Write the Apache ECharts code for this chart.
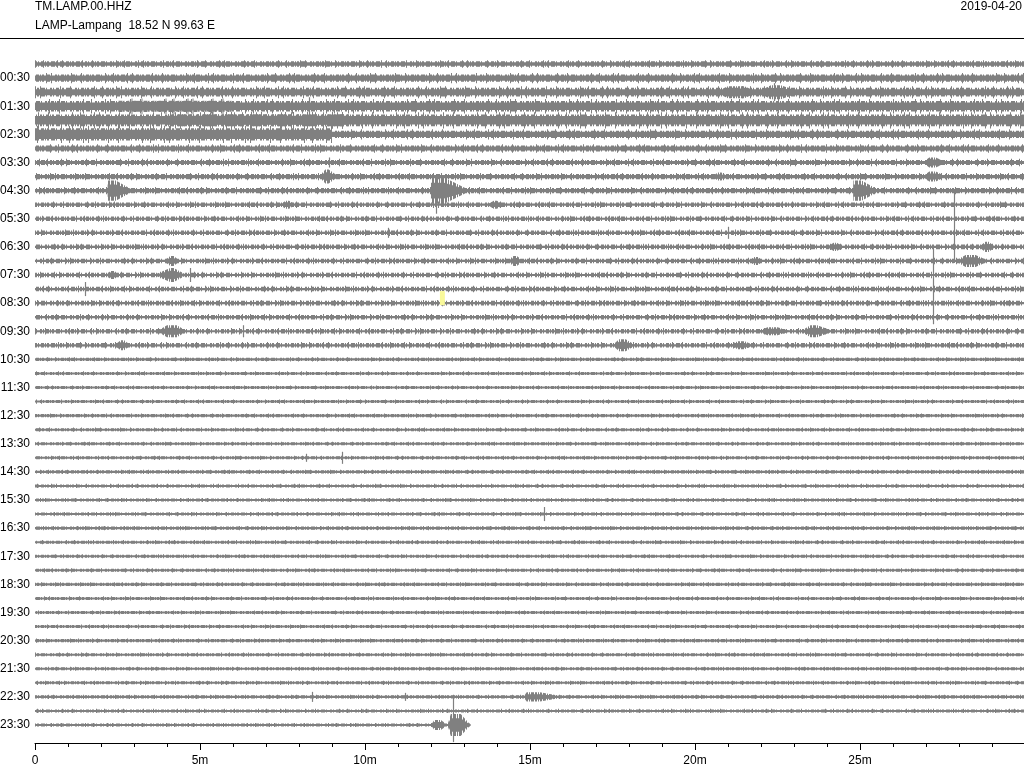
<!DOCTYPE html>
<html><head><meta charset="utf-8">
<script src="https://cdn.jsdelivr.net/npm/echarts@6/dist/echarts.min.js"></script>
<style>html,body{margin:0;padding:0;background:#fff}#c{width:1024px;height:768px}</style>
</head><body><div id="c"></div>
<script>
// ---------------- data ----------------
const stationCode = "TM.LAMP.00.HHZ";
const stationInfo = "LAMP-Lampang  18.52 N 99.63 E";
const dateLabel = "2019-04-20";
const hourLabels = ["00:30","01:30","02:30","03:30","04:30","05:30","06:30","07:30","08:30","09:30","10:30","11:30",
                    "12:30","13:30","14:30","15:30","16:30","17:30","18:30","19:30","20:30","21:30","22:30","23:30"];
const minuteTicks = [0, 5, 10, 15, 20, 25, 30];
const minuteLabels = ["0", "5m", "10m", "15m", "20m", "25m", ""];
const COUNTS_PER_TRACE = 1400;       // amplitude counts equal to one line spacing
const lastTraceEndMinute = 13.2;     // record stops at 23:43
// background noise half-amplitude (counts) per 30-min line, core and peak
const noiseCore = [170,260,300,380,420,260,200,160,160,160,
                   110,110,110,110,110,110,110,110,110,110,110,
                   100,100,100,100,100,100,100,100,100,100,100,100,100,100,100,100,100,100,100,100,100,100,100,100,100,100,100];
const noisePeak = [270,370,430,520,580,370,300,260,260,260,
                   230,220,230,230,230,230,230,230,230,230,230,
                   150,150,150,150,150,150,150,150,150,150,150,150,150,150,150,150,150,150,150,150,150,150,150,150,150,150,150];
// stretches of louder noise: [line, start min, end min, core counts, peak counts]
const noiseSegments = [
  [5, 0.0, 9.0, 470, 620],
  [3, 2.5, 6.0, 420, 560],
  [4, 4.0, 9.5, 450, 600]
];
// wave packets: [line, start min, full-amp start, full-amp end, end min, half-amplitude counts]
const events = [
  [2, 20.6, 21.0, 21.5, 21.9, 600],
  [2, 21.9, 22.3, 22.6, 23.2, 700],
  [3, 4.0, 4.2, 4.3, 4.5, 500],
  [8, 8.6, 8.8, 8.9, 9.2, 700],
  [7, 26.9, 27.1, 27.3, 27.6, 500],
  [8, 26.9, 27.1, 27.3, 27.6, 500],
  [8, 20.5, 20.7, 20.8, 21.0, 400],
  [9, 2.2, 2.2, 2.45, 3.0, 1000],
  [9, 12.0, 12.0, 12.4, 13.2, 1300],
  [9, 24.8, 24.8, 25.05, 25.6, 1000],
  [10, 7.4, 7.6, 7.7, 7.9, 400],
  [10, 13.7, 13.9, 14.0, 14.2, 400],
  [13, 24.0, 24.2, 24.3, 24.5, 400],
  [13, 28.6, 28.8, 28.9, 29.1, 500],
  [14, 3.9, 4.1, 4.2, 4.4, 500],
  [14, 14.3, 14.5, 14.6, 14.8, 500],
  [14, 21.6, 21.8, 21.9, 22.1, 400],
  [14, 27.9, 28.2, 28.5, 28.9, 600],
  [15, 2.1, 2.3, 2.4, 2.6, 400],
  [15, 3.6, 4.1, 4.2, 4.6, 700],
  [19, 3.7, 4.0, 4.3, 4.6, 600],
  [19, 21.9, 22.2, 22.5, 22.9, 400],
  [19, 23.2, 23.5, 23.7, 24.2, 600],
  [20, 2.4, 2.6, 2.7, 2.9, 500],
  [20, 17.5, 17.7, 17.9, 18.2, 600],
  [20, 21.0, 21.3, 21.5, 21.8, 400],
  [45, 14.8, 14.9, 15.3, 16.1, 450],
  [47, 12.0, 12.1, 12.3, 12.5, 500],
  [47, 12.5, 12.6, 12.9, 13.2, 1100]
];
// single spikes: [line, minute, upward counts, downward counts]
const spikes = [
  [2, 22.4, 900, 900],
  [3, 8.3, 900, 900],
  [7, 8.9, 500, 500],
  [9, 12.15, 1200, 2300],
  [9, 12.3, 1300, 1300],
  [12, 10.7, 500, 500],
  [12, 21.0, 600, 600],
  [14, 27.85, 6900, 200],
  [15, 4.7, 700, 700],
  [16, 1.5, 700, 700],
  [18, 27.2, 6800, 700],
  [19, 6.3, 600, 600],
  [28, 8.2, 400, 400],
  [28, 9.3, 600, 600],
  [32, 15.42, 700, 700],
  [45, 8.4, 500, 500],
  [45, 11.2, 400, 400],
  [47, 12.67, 2600, 1700]
];
// highlighted pick: [line, start min, end min, upward counts, downward counts]
const picks = [[17, 12.27, 12.42, 1200, 200]];

// ---------------- chart ----------------
const lineCount = noiseCore.length;
const traceData = noiseCore.map((c, i) => [i, 0, i === lineCount - 1 ? lastTraceEndMinute : 30, c, noisePeak[i]]);
const GRAY = '#808080';
const FONT = 'Liberation Sans, Arial, sans-serif';
// stroke / fill textures (style only) imitating the broken look of dense waveform traces
const DENSE_DASH = [2, 1, 1, 2, 3, 1, 1, 1, 2, 2, 4, 1, 1, 3];
const SPARSE_DASH = [1, 7, 1, 13, 1, 4, 1, 19, 1, 9, 1, 23];
function stripePattern() {
  const cols = [1,1,0,1,1,1,0,1,0,1,1,1,0,1,1,0,1,0];
  const c = document.createElement('canvas');
  c.width = cols.length; c.height = 4;
  const g = c.getContext('2d');
  g.fillStyle = GRAY;
  cols.forEach((on, k) => { if (on) g.fillRect(k, 0, 1, 4); });
  return {image: c, repeat: 'repeat'};
}
const STRIPES = stripePattern();

function toY(line, counts) { return line + counts / COUNTS_PER_TRACE; }

function renderTrace(params, api) {
  const i = api.value(0), s = api.value(1), e = api.value(2), core = api.value(3), peak = api.value(4);
  const p0 = api.coord([s, i]), p1 = api.coord([e, i]);
  const hc = api.size([0, core / COUNTS_PER_TRACE])[1];
  const hp = api.size([0, peak / COUNTS_PER_TRACE])[1];
  const y = p0[1];
  return {type: 'group', children: [
    {type: 'line', shape: {x1: p0[0], y1: y, x2: p1[0], y2: y},
     style: {stroke: GRAY, lineWidth: 2 * hp * 1.4, lineDash: SPARSE_DASH, lineDashOffset: i * 11, lineCap: 'butt'}},
    {type: 'line', shape: {x1: p0[0], y1: y, x2: p1[0], y2: y},
     style: {stroke: GRAY, lineWidth: 2 * hp, lineDash: DENSE_DASH, lineDashOffset: i * 5, lineCap: 'butt'}},
    {type: 'rect', shape: {x: p0[0], y: y - hc, width: p1[0] - p0[0], height: 2 * hc}, style: {fill: GRAY}}
  ]};
}
function renderEvent(params, api) {
  const l = api.value(0), a = api.value(5);
  const t = [api.value(1), api.value(2), api.value(3), api.value(4)];
  const env = f => [
    api.coord([t[0], l]), api.coord([t[1], toY(l, -a * f)]), api.coord([t[2], toY(l, -a * f)]),
    api.coord([t[3], l]), api.coord([t[2], toY(l, a * f)]), api.coord([t[1], toY(l, a * f)])
  ];
  return {type: 'group', children: [
    {type: 'polygon', shape: {points: env(1)}, style: {fill: STRIPES}},
    {type: 'polygon', shape: {points: env(0.6)}, style: {fill: GRAY}}
  ]};
}
function renderSpike(params, api) {
  const l = api.value(0), m = api.value(1);
  const a = api.coord([m, toY(l, -api.value(2))]), b = api.coord([m, toY(l, api.value(3))]);
  const x = Math.round(a[0]) + 0.5;
  return {type: 'line', shape: {x1: x, y1: a[1], x2: x, y2: b[1]}, style: {stroke: GRAY, lineWidth: 1.2}};
}
function renderPick(params, api) {
  const l = api.value(0);
  const a = api.coord([api.value(1), toY(l, -api.value(3))]), b = api.coord([api.value(2), toY(l, api.value(4))]);
  return {type: 'rect', shape: {x: a[0], y: a[1], width: b[0] - a[0], height: b[1] - a[1]}, style: {fill: '#f9f99a'}};
}

const chart = echarts.init(document.getElementById('c'), null, {renderer: 'canvas'});
chart.setOption({
  animation: false,
  backgroundColor: '#fff',
  grid: {left: 35, right: -1, top: 50, bottom: 25, containLabel: false, outerBoundsMode: 'none'},
  xAxis: {
    type: 'value', position: 'bottom', min: minuteTicks[0], max: minuteTicks[minuteTicks.length - 1], interval: 5,
    axisLine: {show: true, onZero: false, lineStyle: {color: '#000', width: 1}},
    axisTick: {show: true, length: 7, lineStyle: {color: '#000'}},
    minorTick: {show: true, splitNumber: 5, length: 4, lineStyle: {color: '#000'}},
    splitLine: {show: false},
    axisLabel: {color: '#000', fontSize: 12, fontFamily: FONT, margin: 12,
      formatter: v => minuteLabels[minuteTicks.indexOf(v)] ?? ''}
  },
  yAxis: {
    type: 'value', inverse: true, min: -1, max: 48.28, interval: 2,
    axisLine: {show: false}, axisTick: {show: false}, splitLine: {show: false},
    axisLabel: {color: '#000', fontSize: 12, fontFamily: FONT, margin: 5, showMaxLabel: false,
      padding: [0, 0, 8, 0],
      formatter: v => (v >= 1 && (v - 1) % 2 === 0) ? (hourLabels[(v - 1) / 2] || '') : ''}
  },
  graphic: [
    {type: 'text', left: 35, top: 1, style: {text: stationCode, fill: '#000', font: '12px ' + FONT}},
    {type: 'text', left: 35, top: 20, style: {text: stationInfo, fill: '#000', font: '12px ' + FONT}},
    {type: 'text', right: 2, top: 1, style: {text: dateLabel, fill: '#000', font: '12px ' + FONT}},
    {type: 'line', shape: {x1: 0, y1: 38.5, x2: 1024, y2: 38.5}, style: {stroke: '#000', lineWidth: 1}}
  ],
  series: [
    {type: 'custom', renderItem: renderTrace, data: traceData, clip: false, silent: true},
    {type: 'custom', renderItem: renderTrace, data: noiseSegments, clip: false, silent: true},
    {type: 'custom', renderItem: renderEvent, data: events, clip: false, silent: true},
    {type: 'custom', renderItem: renderSpike, data: spikes, clip: false, silent: true},
    {type: 'custom', renderItem: renderPick, data: picks, clip: false, silent: true}
  ]
});
</script></body></html>
